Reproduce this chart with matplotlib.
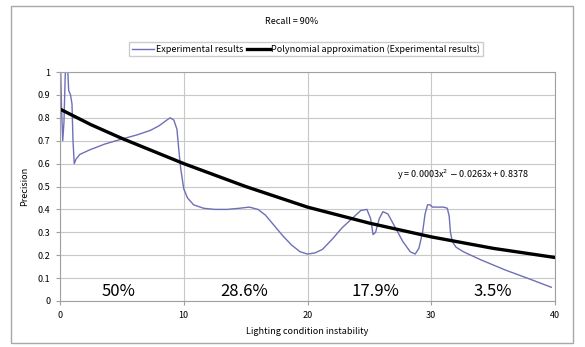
import matplotlib
matplotlib.use("Agg")
import matplotlib.pyplot as plt
from matplotlib.patches import Rectangle

plt.rcParams['font.family'] = ['Noto Sans CJK JP', 'DejaVu Sans']

exp_x = [0, 0.05, 0.12, 0.22, 0.32, 0.45, 0.6, 0.7, 0.85, 0.97, 1.05, 1.15, 1.3, 1.6,
         2.4, 3.6, 4.85, 6.2, 7.3, 8.0, 8.5, 8.9, 9.2, 9.45, 9.6, 9.75, 10.0, 10.3,
         10.8, 11.6, 12.5, 13.5, 14.5, 15.3, 16.0, 16.6, 17.3, 18.0, 18.7, 19.4, 20.0,
         20.6, 21.2, 22.0, 22.8, 23.6, 24.3, 24.8, 25.1, 25.3, 25.5, 25.8, 26.1, 26.5,
         27.1, 27.7, 28.3, 28.7, 29.0, 29.3, 29.5, 29.7, 29.9, 30.1, 30.5, 31.0, 31.3,
         31.45, 31.55, 31.7, 32.0, 32.6, 34.0, 36.0, 38.0, 39.7]
exp_y = [0.84, 1.02, 0.85, 0.70, 0.78, 1.04, 1.04, 0.92, 0.90, 0.86, 0.70, 0.60, 0.62, 0.64,
         0.66, 0.685, 0.705, 0.725, 0.745, 0.765, 0.785, 0.80, 0.79, 0.75, 0.66, 0.58, 0.49, 0.45,
         0.42, 0.405, 0.40, 0.40, 0.405, 0.41, 0.40, 0.375, 0.33, 0.285, 0.245, 0.215, 0.205,
         0.21, 0.225, 0.27, 0.32, 0.36, 0.395, 0.40, 0.36, 0.29, 0.30, 0.36, 0.39, 0.38,
         0.32, 0.26, 0.215, 0.205, 0.23, 0.30, 0.38, 0.42, 0.42, 0.41, 0.41, 0.41, 0.405,
         0.37, 0.30, 0.26, 0.235, 0.215, 0.18, 0.135, 0.095, 0.06]

# polynomial trend line as drawn
poly_x = [0, 2.5, 5, 7.5, 10, 12.5, 15, 17.5, 20, 22.5, 25, 27.5, 30, 32.5, 35, 37.5, 40]
poly_y = [0.838, 0.77, 0.71, 0.655, 0.60, 0.55, 0.50, 0.455, 0.41, 0.375, 0.34, 0.31,
          0.28, 0.255, 0.23, 0.21, 0.19]

share_x = [4.7, 14.9, 25.5, 35.0]
share_labels = ["50%", "28.6%", "17.9%", "3.5%"]

fig = plt.figure(figsize=(5.85, 3.47), dpi=100)
ax = fig.add_axes([60/585, 1 - 301/347, 495/585, 229/347])

ax.plot(exp_x, exp_y, color="#6f6fb8", lw=1.0, label="Experimental results")
ax.plot(poly_x, poly_y, color="black", lw=2.4,
        label="Polynomial approximation (Experimental results)")

ax.set_xlim(0, 40)
ax.set_ylim(0, 1)
ax.set_xticks([0, 10, 20, 30, 40])
ax.set_yticks([i / 10 for i in range(11)])
ax.set_yticklabels(["0", "0.1", "0.2", "0.3", "0.4", "0.5", "0.6", "0.7", "0.8", "0.9", "1"])
ax.grid(True, color="#c8c8c8", lw=0.8)
ax.set_axisbelow(True)
for s in ax.spines.values():
    s.set_color("#a0a0a0")
    s.set_linewidth(0.8)
ax.tick_params(labelsize=6.5, length=3, color="#a0a0a0", pad=4)
ax.set_xlabel("Lighting condition instability", fontsize=6.5, labelpad=5)
ax.set_ylabel("Precision", fontsize=6.5, labelpad=6)

for x, t in zip(share_x, share_labels):
    ax.text(x, 0.04, t, fontsize=12, ha="center", va="center")

ax.text(27.2, 0.55, r"y = 0.0003x$^2$ $-$ 0.0263x + 0.8378", fontsize=6.5, va="center")

fig.text(292/585, 1 - 22/347, "Recall = 90%", fontsize=6.5, ha="center", va="center")
fig.legend(loc="center", bbox_to_anchor=(306/585, 1 - 49/347), ncol=2, fontsize=6.5,
           frameon=True, fancybox=False, edgecolor="#c0c0c0", handlelength=2.5,
           columnspacing=0.4, handletextpad=0.2, borderpad=0.3)

fig.patches.append(Rectangle((11/585, 1 - 343/347), 562/585, 337/347,
                             transform=fig.transFigure, fill=False,
                             edgecolor="#a8a8a8", lw=1.0))

fig.savefig("out.png", dpi=100)
